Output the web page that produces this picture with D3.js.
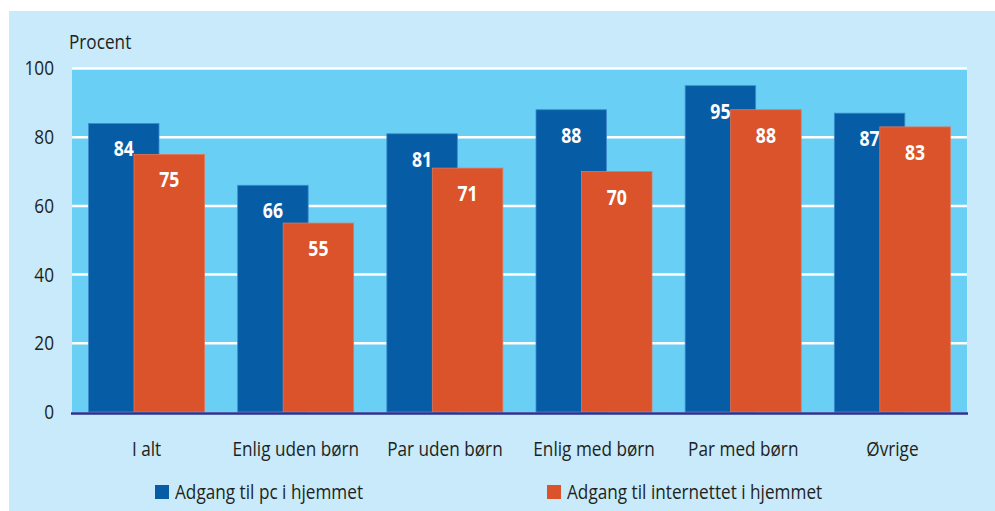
<!DOCTYPE html>
<html>
<head>
<meta charset="utf-8">
<script src="https://cdn.jsdelivr.net/npm/d3@7"></script>
<style>
  body { margin: 0; background: #fff; }
  svg text { font-family: "Open Sans", "DejaVu Sans", sans-serif; }
</style>
</head>
<body>
<script>
// Data
const categories = ["I alt", "Enlig uden børn", "Par uden børn", "Enlig med børn", "Par med børn", "Øvrige"];
const pcValues = [84, 66, 81, 88, 95, 87];
const netValues = [75, 55, 71, 70, 88, 83];
const seriesNames = ["Adgang til pc i hjemmet", "Adgang til internettet i hjemmet"];
const yTicks = [0, 20, 40, 60, 80, 100];

const W = 995, H = 511;
const plot = { left: 72, right: 967, top: 68.5, bottom: 412 };
const textColor = "#231f20";
// the original font is condensed, so squeeze text horizontally
const sx = 0.86;
const sxBold = 0.8;

const svg = d3.select("body").append("svg")
    .attr("width", W)
    .attr("height", H);

// Light blue panel
svg.append("rect")
    .attr("x", 9).attr("y", 11)
    .attr("width", W - 9).attr("height", H - 11)
    .attr("fill", "#c8eafa");

const x = d3.scaleBand()
    .domain(categories)
    .range([plot.left, plot.right]);

const y = d3.scaleLinear()
    .domain([0, 100])
    .range([plot.bottom, plot.top]);

// Plot area
svg.append("rect")
    .attr("x", plot.left).attr("y", y(100))
    .attr("width", plot.right - plot.left).attr("height", y(0) - y(100))
    .attr("fill", "#6acff5");

// Gridlines
svg.append("g")
    .selectAll("line")
    .data(yTicks.filter(d => d > 0))
    .join("line")
    .attr("x1", plot.left).attr("x2", plot.right)
    .attr("y1", d => y(d)).attr("y2", d => y(d))
    .attr("stroke", "#fff")
    .attr("stroke-width", 2.5);

// Y axis labels
const yAxis = d3.axisLeft(y).tickValues(yTicks).tickSize(0);
const gy = svg.append("g")
    .attr("transform", `translate(${plot.left},0)`)
    .call(yAxis);
gy.select(".domain").remove();
gy.selectAll("text")
    .attr("x", 0)
    .attr("transform", `translate(-18,0) scale(${sx},1)`)
    .attr("fill", textColor)
    .style("font-size", "20px");

svg.append("text")
    .attr("transform", `translate(69,49) scale(${sx},1)`)
    .attr("fill", textColor)
    .style("font-size", "20px")
    .text("Procent");

// Bars
const barW = 70.5;
const gap = 16.5;
const shift = 45.5;

const rows = categories.map((c, i) => ({ cat: c, pc: pcValues[i], net: netValues[i] }));

const groups = svg.append("g")
    .selectAll("g")
    .data(rows)
    .join("g")
    .attr("transform", d => `translate(${x(d.cat)},0)`);

groups.append("rect")
    .attr("x", gap)
    .attr("y", d => y(d.pc))
    .attr("width", barW)
    .attr("height", d => y(0) - y(d.pc))
    .attr("fill", "#075da5")
    .attr("stroke", "#3c8ccc")
    .attr("stroke-width", 0.8);

groups.append("text")
    .attr("transform", d => `translate(${gap + barW / 2},${y(d.pc) + 33}) scale(${sxBold},1)`)
    .attr("text-anchor", "middle")
    .attr("fill", "#fff")
    .style("font-size", "22px")
    .style("font-weight", "bold")
    .text(d => d.pc);

groups.append("rect")
    .attr("x", gap + shift)
    .attr("y", d => y(d.net))
    .attr("width", barW)
    .attr("height", d => y(0) - y(d.net))
    .attr("fill", "#da532b")
    .attr("stroke", "#e2775a")
    .attr("stroke-width", 0.8);

groups.append("text")
    .attr("transform", d => `translate(${gap + shift + barW / 2},${y(d.net) + 33}) scale(${sxBold},1)`)
    .attr("text-anchor", "middle")
    .attr("fill", "#fff")
    .style("font-size", "22px")
    .style("font-weight", "bold")
    .text(d => d.net);

// Baseline
svg.append("line")
    .attr("x1", plot.left - 1).attr("x2", plot.right + 1)
    .attr("y1", y(0) + 1.5).attr("y2", y(0) + 1.5)
    .attr("stroke", "#2b3190")
    .attr("stroke-width", 2.5);

// Category labels
const xAxis = d3.axisBottom(x).tickSize(0);
const gx = svg.append("g")
    .attr("transform", `translate(0,${y(0)})`)
    .call(xAxis);
gx.select(".domain").remove();
gx.selectAll("text")
    .attr("dy", null)
    .attr("y", 0)
    .attr("transform", `translate(0,44) scale(${sx},1)`)
    .attr("fill", textColor)
    .style("font-size", "20px");

// Legend
const legendX = [155, 547];
const legendColors = ["#075da5", "#da532b"];
const legend = svg.append("g")
    .selectAll("g")
    .data(seriesNames)
    .join("g")
    .attr("transform", (d, i) => `translate(${legendX[i]},485)`);

legend.append("rect")
    .attr("width", 14).attr("height", 14)
    .attr("fill", (d, i) => legendColors[i]);

legend.append("text")
    .attr("transform", `translate(20,14) scale(${sx},1)`)
    .attr("fill", textColor)
    .style("font-size", "20px")
    .text(d => d);
</script>
</body>
</html>
